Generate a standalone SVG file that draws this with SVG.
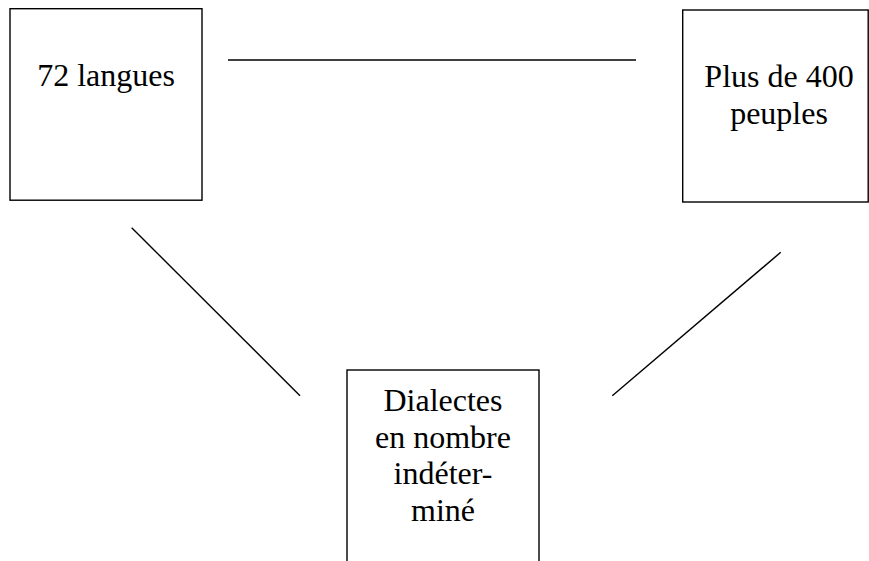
<svg xmlns="http://www.w3.org/2000/svg" width="869" height="561" viewBox="0 0 869 561">
<style>
.box{fill:#fff;stroke:#000;stroke-width:1.4}
.ln{stroke:#000;stroke-width:1.4;fill:none}
.t{font-size:32px;fill:#000;text-anchor:middle}
</style>
<rect width="869" height="561" fill="#fff"/>
<g id="connectors">
<line class="ln" x1="228" y1="60" x2="636" y2="60"/>
<line class="ln" x1="131.7" y1="227.7" x2="300" y2="395.7"/>
<line class="ln" x1="780.7" y1="252.3" x2="612.3" y2="395.7"/>
</g>
<g id="n1" font-family="'Liberation Serif', 'DejaVu Serif', serif">
<rect class="box" x="10" y="8.7" width="192" height="191.5"/>
<text class="t" x="106" y="86">72 langues</text>
</g>
<g id="n2" font-family="'Liberation Serif', 'DejaVu Serif', serif">
<rect class="box" x="682.7" y="10" width="185.5" height="192"/>
<text class="t" x="779" y="87">Plus de 400</text>
<text class="t" x="779" y="123.5">peuples</text>
</g>
<g id="n3" font-family="'Liberation Serif', 'DejaVu Serif', serif">
<rect class="box" x="347" y="370" width="192" height="200"/>
<text class="t" x="443" y="411">Dialectes</text>
<text class="t" x="443" y="447.5">en nombre</text>
<text class="t" x="443" y="484">indéter-</text>
<text class="t" x="443" y="521">miné</text>
</g>
</svg>
